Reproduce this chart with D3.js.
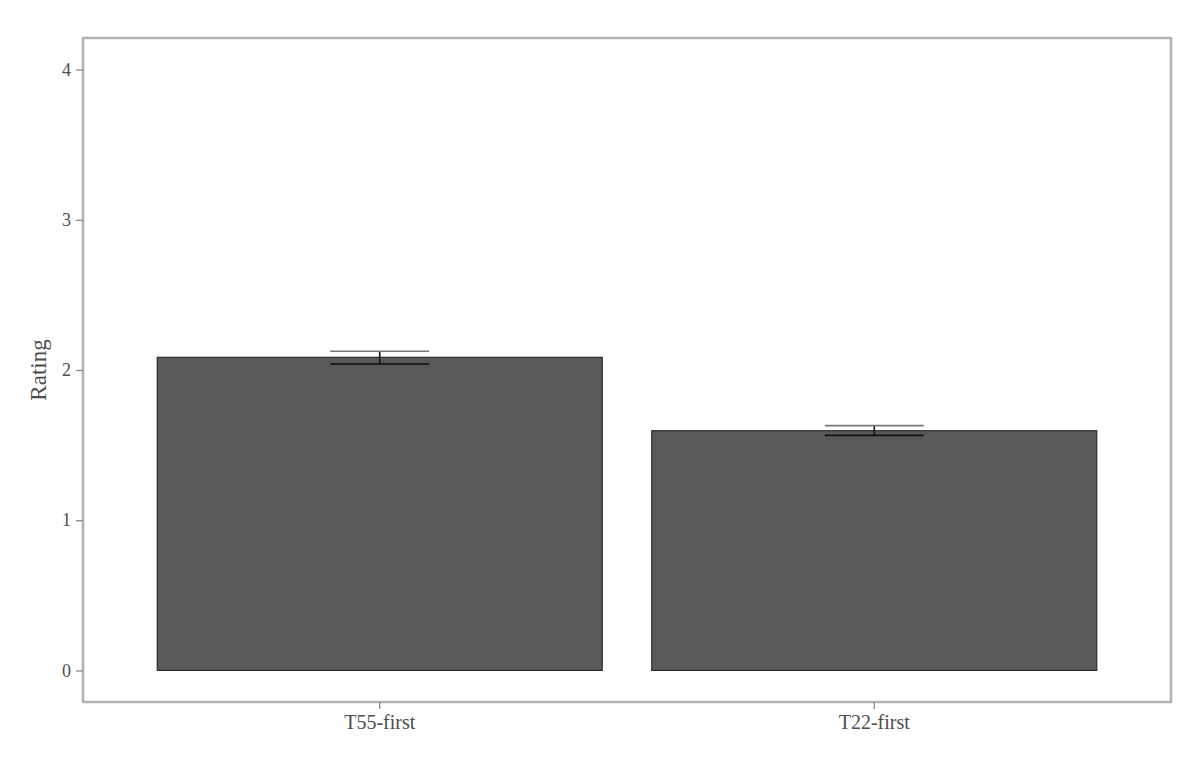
<!DOCTYPE html>
<html><head><meta charset="utf-8">
<script src="https://cdn.jsdelivr.net/npm/d3@7"></script>
<style>body{margin:0;background:#fff;}svg{display:block;}</style>
</head><body>
<script>
const categories = ["T55-first", "T22-first"];
const means = [2.085, 1.596];
const lower = [2.04, 1.565];
const upper = [2.125, 1.63];
const yTicks = [0, 1, 2, 3, 4];

const W = 1200, H = 775;
const L = 83, R = 1171, T = 38, B = 702;
const svg = d3.select("body").append("svg").attr("width", W).attr("height", H);

const x = d3.scaleBand().domain(categories).range([L, R]).paddingInner(0.1).paddingOuter(0.15);
const y = d3.scaleLinear().domain([-0.21, 4.21]).range([B, T]);
const step = x.step();
const capW = step * 0.2;

const data = categories.map((c, i) => ({c, m: means[i], lo: lower[i], hi: upper[i]}));

svg.selectAll("rect.bar").data(data).enter().append("rect")
  .attr("x", d => x(d.c)).attr("width", x.bandwidth())
  .attr("y", d => y(d.m)).attr("height", d => y(0) - y(d.m))
  .attr("fill", "#595959").attr("stroke", "#1a1a1a").attr("stroke-width", 1);

const eb = svg.selectAll("g.eb").data(data).enter().append("g")
  .attr("stroke", "#111").attr("stroke-width", 1.6);
eb.append("line").attr("x1", d => x(d.c) + x.bandwidth()/2).attr("x2", d => x(d.c) + x.bandwidth()/2)
  .attr("y1", d => y(d.hi)).attr("y2", d => y(d.lo));
eb.append("line").attr("x1", d => x(d.c) + x.bandwidth()/2 - capW/2).attr("x2", d => x(d.c) + x.bandwidth()/2 + capW/2)
  .attr("y1", d => y(d.hi)).attr("y2", d => y(d.hi)).attr("stroke", "#777");
eb.append("line").attr("x1", d => x(d.c) + x.bandwidth()/2 - capW/2).attr("x2", d => x(d.c) + x.bandwidth()/2 + capW/2)
  .attr("y1", d => y(d.lo)).attr("y2", d => y(d.lo));

// panel border
svg.append("rect").attr("x", L).attr("y", T).attr("width", R - L).attr("height", B - T)
  .attr("fill", "none").attr("stroke", "#b3b3b3").attr("stroke-width", 2.6).attr("stroke-linejoin", "round");

const font = "'Liberation Serif', 'Times New Roman', serif";
const yAxis = svg.append("g").attr("transform", `translate(${L},0)`)
  .call(d3.axisLeft(y).tickValues(yTicks).tickSize(7).tickPadding(5).tickFormat(d3.format("d")));
yAxis.select(".domain").remove();
yAxis.selectAll("line").attr("stroke", "#8a8a8a").attr("stroke-width", 1.3);
yAxis.selectAll("text").attr("fill", "#4d4d4d").style("font-family", font).style("font-size", "18px");

const xAxis = svg.append("g").attr("transform", `translate(0,${B})`)
  .call(d3.axisBottom(x).tickSize(7).tickPadding(6));
xAxis.select(".domain").remove();
xAxis.selectAll("line").attr("stroke", "#8a8a8a").attr("stroke-width", 1.3);
xAxis.selectAll("text").attr("fill", "#4d4d4d").style("font-family", font).style("font-size", "20px");

svg.append("text").attr("transform", `translate(46,${(T + B) / 2}) rotate(-90)`)
  .attr("text-anchor", "middle").attr("fill", "#4d4d4d")
  .style("font-family", font).style("font-size", "23px").text("Rating");
</script>
</body></html>
